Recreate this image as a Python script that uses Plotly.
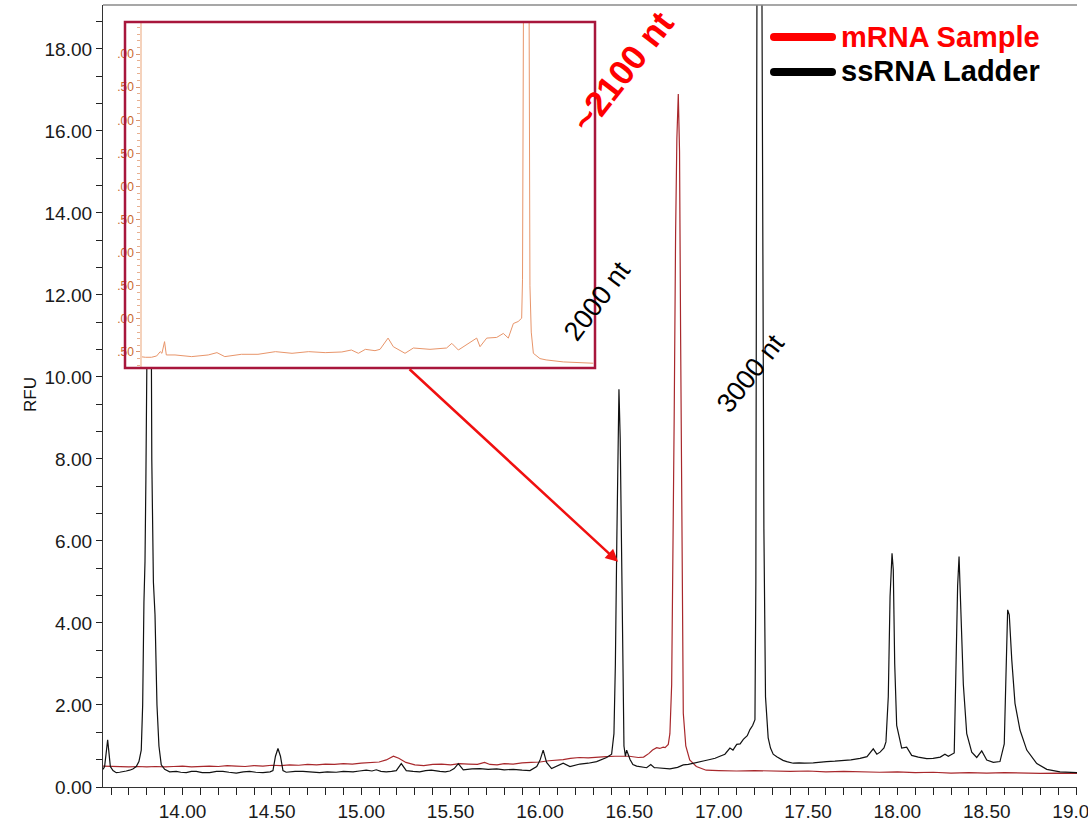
import plotly.graph_objects as go

# ---- electropherogram data (migration time in min, signal in RFU) ----
ladder_t = [13.555, 13.564, 13.572, 13.581, 13.588, 13.596, 13.611, 13.629, 13.648, 13.666,
            13.685, 13.704, 13.722, 13.741, 13.756, 13.769, 13.777, 13.784, 13.790, 13.795,
            13.799, 13.804, 13.809, 13.815, 13.821, 13.824, 13.828, 13.837, 13.846, 13.857,
            13.868, 13.881, 13.900, 13.928, 13.965, 13.990, 14.021, 14.050, 14.077, 14.110,
            14.152, 14.190, 14.226, 14.260, 14.301, 14.340, 14.375, 14.410, 14.450, 14.490,
            14.506, 14.520, 14.534, 14.548, 14.562, 14.580, 14.599, 14.630, 14.674, 14.720,
            14.767, 14.810, 14.860, 14.900, 14.954, 14.990, 15.028, 15.060, 15.084, 15.110,
            15.140, 15.170, 15.196, 15.224, 15.252, 15.290, 15.327, 15.360, 15.392, 15.440,
            15.470, 15.496, 15.520, 15.543, 15.571, 15.620, 15.664, 15.710, 15.758, 15.800,
            15.851, 15.900, 15.944, 15.982, 16.000, 16.018, 16.028, 16.037, 16.065, 16.100,
            16.130, 16.168, 16.200, 16.224, 16.270, 16.317, 16.373, 16.401, 16.414, 16.422,
            16.430, 16.436, 16.442, 16.449, 16.456, 16.464, 16.470, 16.478, 16.485, 16.504,
            16.520, 16.541, 16.570, 16.597, 16.620, 16.640, 16.653, 16.690, 16.727, 16.770,
            16.802, 16.830, 16.858, 16.895, 16.920, 16.951, 16.980, 17.007, 17.035, 17.063,
            17.080, 17.101, 17.120, 17.138, 17.160, 17.175, 17.190, 17.203, 17.208, 17.212,
            17.216, 17.227, 17.238, 17.242, 17.247, 17.253, 17.262, 17.277, 17.290, 17.305,
            17.325, 17.360, 17.381, 17.417, 17.450, 17.480, 17.529, 17.560, 17.604, 17.650,
            17.697, 17.740, 17.791, 17.830, 17.865, 17.885, 17.903, 17.925, 17.936, 17.949,
            17.959, 17.970, 17.977, 17.985, 17.996, 18.024, 18.052, 18.080, 18.117, 18.164,
            18.200, 18.240, 18.266, 18.285, 18.318, 18.328, 18.337, 18.345, 18.354, 18.369,
            18.388, 18.416, 18.444, 18.472, 18.500, 18.537, 18.574, 18.598, 18.608, 18.617,
            18.626, 18.640, 18.658, 18.686, 18.724, 18.780, 18.836, 18.910, 19.005]
ladder_rfu = [0.43, 0.50, 0.80, 1.15, 0.85, 0.50, 0.40, 0.35, 0.36, 0.37,
              0.39, 0.41, 0.44, 0.50, 0.62, 0.90, 2.0, 4.5, 5.5, 7.5,
              10.0, 13.0, 14.8, 15.9, 15.0, 12.5, 8.0, 5.0, 4.2, 2.0,
              1.0, 0.54, 0.43, 0.37, 0.38, 0.36, 0.35, 0.38, 0.38, 0.35,
              0.35, 0.38, 0.38, 0.36, 0.34, 0.37, 0.38, 0.36, 0.35, 0.37,
              0.40, 0.75, 0.94, 0.75, 0.40, 0.36, 0.37, 0.38, 0.38, 0.36,
              0.35, 0.37, 0.36, 0.38, 0.37, 0.39, 0.41, 0.39, 0.42, 0.38,
              0.37, 0.38, 0.40, 0.57, 0.40, 0.38, 0.37, 0.40, 0.41, 0.38,
              0.37, 0.39, 0.45, 0.57, 0.42, 0.44, 0.45, 0.43, 0.44, 0.42,
              0.43, 0.41, 0.40, 0.50, 0.65, 0.90, 0.75, 0.60, 0.45, 0.52,
              0.58, 0.50, 0.53, 0.56, 0.58, 0.62, 0.72, 0.80, 1.3, 3.0,
              6.0, 8.8, 9.7, 8.5, 5.5, 2.5, 1.0, 0.75, 0.90, 0.67,
              0.55, 0.51, 0.49, 0.47, 0.55, 0.47, 0.47, 0.46, 0.44, 0.48,
              0.54, 0.55, 0.58, 0.63, 0.64, 0.67, 0.70, 0.75, 0.80, 0.95,
              0.90, 1.04, 1.05, 1.16, 1.25, 1.40, 1.50, 1.64, 5.0, 15.0,
              35.0, 45.0, 35.0, 19.5, 10.0, 6.3, 2.2, 1.2, 0.95, 0.80,
              0.74, 0.65, 0.62, 0.58, 0.59, 0.58, 0.59, 0.61, 0.62, 0.63,
              0.64, 0.66, 0.70, 0.74, 0.93, 0.80, 0.85, 0.95, 1.10, 2.2,
              4.64, 5.70, 5.3, 3.0, 1.5, 0.95, 0.97, 0.77, 0.73, 0.69,
              0.70, 0.73, 0.80, 0.75, 0.83, 3.1, 4.9, 5.62, 4.6, 2.5,
              1.3, 0.85, 0.72, 0.88, 0.66, 0.60, 0.62, 1.05, 2.8, 4.32,
              4.2, 3.1, 2.04, 1.39, 0.90, 0.57, 0.43, 0.37, 0.35]

sample_t = [13.555, 13.60, 13.65, 13.70, 13.75, 13.80, 13.85, 13.90, 13.95, 14.00,
            14.05, 14.10, 14.15, 14.20, 14.25, 14.30, 14.35, 14.40, 14.45, 14.50,
            14.55, 14.60, 14.65, 14.70, 14.75, 14.80, 14.85, 14.90, 14.95, 15.00,
            15.05, 15.10, 15.14, 15.18, 15.21, 15.25, 15.30, 15.35, 15.40, 15.45,
            15.50, 15.55, 15.60, 15.65, 15.69, 15.72, 15.76, 15.80, 15.85, 15.90,
            15.95, 16.00, 16.05, 16.10, 16.13, 16.17, 16.22, 16.27, 16.32, 16.37,
            16.42, 16.47, 16.50, 16.55, 16.58, 16.61, 16.63, 16.653, 16.67, 16.69,
            16.70, 16.718, 16.727, 16.737, 16.744, 16.751, 16.759, 16.766, 16.774, 16.781,
            16.787, 16.791, 16.795, 16.802, 16.816, 16.838, 16.875, 16.93, 17.00, 17.10,
            17.20, 17.30, 17.40, 17.50, 17.60, 17.70, 17.80, 17.90, 18.00, 18.10,
            18.20, 18.30, 18.40, 18.50, 18.60, 18.70, 18.80, 18.90, 19.005]
sample_rfu = [0.51, 0.50, 0.49, 0.49, 0.50, 0.49, 0.50, 0.49, 0.50, 0.51,
              0.49, 0.50, 0.51, 0.50, 0.52, 0.51, 0.50, 0.52, 0.51, 0.53,
              0.52, 0.54, 0.53, 0.55, 0.54, 0.56, 0.55, 0.57, 0.56, 0.58,
              0.59, 0.61, 0.66, 0.75, 0.70, 0.60, 0.54, 0.52, 0.55, 0.56,
              0.54, 0.57, 0.56, 0.55, 0.60, 0.55, 0.54, 0.57, 0.56, 0.59,
              0.60, 0.61, 0.64, 0.65, 0.67, 0.70, 0.72, 0.71, 0.73, 0.74,
              0.75, 0.76, 0.75, 0.72, 0.73, 0.82, 0.90, 0.96, 0.94, 0.97,
              0.96, 1.04, 1.3, 2.5, 5.0, 9.0, 13.5, 15.8, 16.9, 15.5,
              11.0, 8.0, 4.0, 1.8, 1.0, 0.66, 0.50, 0.41, 0.40, 0.39,
              0.40, 0.39, 0.38, 0.39, 0.37, 0.38, 0.37, 0.36, 0.37, 0.35,
              0.36, 0.34, 0.35, 0.34, 0.35, 0.34, 0.33, 0.34, 0.33]

# zoomed view of the mRNA sample trace
inset_t = [12.35, 12.41, 12.48, 12.54, 12.58, 12.60, 12.63, 12.65, 12.75, 12.94,
           13.13, 13.23, 13.32, 13.51, 13.70, 13.90, 14.09, 14.28, 14.47, 14.66,
           14.77, 14.85, 14.93, 15.04, 15.098, 15.19, 15.25, 15.384, 15.48, 15.67,
           15.86, 15.92, 15.995, 16.09, 16.205, 16.243, 16.32, 16.434, 16.51, 16.567,
           16.625, 16.68, 16.72, 16.73, 16.736, 16.745, 16.77, 16.795, 16.804, 16.815,
           16.83, 16.854, 16.93, 17.0, 17.197, 17.37, 17.54]
inset_rfu = [0.43, 0.42, 0.42, 0.44, 0.505, 0.48, 0.656, 0.455, 0.455, 0.43,
             0.455, 0.49, 0.43, 0.465, 0.465, 0.505, 0.48, 0.505, 0.49, 0.50,
             0.53, 0.48, 0.54, 0.52, 0.54, 0.71, 0.58, 0.48, 0.56, 0.54,
             0.56, 0.63, 0.53, 0.61, 0.71, 0.58, 0.71, 0.72, 0.78, 0.71,
             0.93, 0.96, 1.01, 1.6, 4.0, 10.0, 16.9, 10.0, 4.0, 1.5,
             0.8, 0.48, 0.40, 0.38, 0.35, 0.34, 0.33]

x_ticks = [14.0, 14.5, 15.0, 15.5, 16.0, 16.5, 17.0, 17.5, 18.0, 18.5, 19.0]
y_ticks = [0, 2, 4, 6, 8, 10, 12, 14, 16, 18]
inset_ticks = [0.5, 1.0, 1.5, 2.0, 2.5, 3.0, 3.5, 4.0, 4.5, 5.0]
inset_ticktext = [".50", ".00", ".50", ".00", ".50", ".00", ".50", ".00", ".50", ".00"]

# ---- page geometry ----
W, H = 1088, 821
ML, MR, MT, MB = 103, 11, 5, 34
PW, PH = W - ML - MR, H - MT - MB


def px(x):
    return (x - ML) / PW


def py(y):
    return (H - MB - y) / PH


FONT = "Arial, Liberation Sans, sans-serif"
SAMPLE_COLOR = "#a8282c"
LADDER_COLOR = "#111111"
BOX_COLOR = "#a8163c"
ORANGE = "#e8956a"

X_RANGE = [13.555, 19.005]
Y_RANGE = [0, 19.07]
IN_X_RANGE = [12.177, 17.56]
IN_Y_RANGE = [0.258, 5.485]

fig = go.Figure()

fig.add_trace(go.Scatter(x=sample_t, y=sample_rfu, mode="lines",
                         line=dict(color=SAMPLE_COLOR, width=1.2),
                         showlegend=False, hoverinfo="skip"))
fig.add_trace(go.Scatter(x=ladder_t, y=ladder_rfu, mode="lines",
                         line=dict(color=LADDER_COLOR, width=1.2),
                         showlegend=False, hoverinfo="skip"))

# inset: translucent backing, then the zoomed sample trace
fig.add_trace(go.Scatter(x=[IN_X_RANGE[0], IN_X_RANGE[1], IN_X_RANGE[1], IN_X_RANGE[0], IN_X_RANGE[0]],
                         y=[IN_Y_RANGE[0], IN_Y_RANGE[0], IN_Y_RANGE[1], IN_Y_RANGE[1], IN_Y_RANGE[0]],
                         mode="lines", fill="toself", fillcolor="rgba(255,255,255,0.5)",
                         line=dict(width=0), xaxis="x2", yaxis="y2",
                         showlegend=False, hoverinfo="skip"))
fig.add_trace(go.Scatter(x=inset_t, y=inset_rfu, mode="lines",
                         line=dict(color=ORANGE, width=1),
                         xaxis="x2", yaxis="y2", showlegend=False, hoverinfo="skip"))

shapes = [
    # top frame line
    dict(type="line", xref="paper", yref="paper", x0=0, x1=1, y0=1, y1=1,
         line=dict(color="#8a8a8a", width=1.5)),
    # inset frame
    dict(type="rect", xref="paper", yref="paper", layer="above",
         x0=px(125), x1=px(595), y0=py(368), y1=py(22),
         line=dict(color=BOX_COLOR, width=2.5)),
    # legend swatches
    dict(type="line", xref="paper", yref="paper", x0=px(774), x1=px(832), y0=py(37), y1=py(37),
         line=dict(color="#ff0000", width=8)),
    dict(type="circle", xref="paper", yref="paper", x0=px(770), x1=px(778), y0=py(41), y1=py(33),
         fillcolor="#ff0000", line=dict(width=0)),
    dict(type="circle", xref="paper", yref="paper", x0=px(828), x1=px(836), y0=py(41), y1=py(33),
         fillcolor="#ff0000", line=dict(width=0)),
    dict(type="line", xref="paper", yref="paper", x0=px(774), x1=px(832), y0=py(72), y1=py(72),
         line=dict(color="#000000", width=8)),
    dict(type="circle", xref="paper", yref="paper", x0=px(770), x1=px(778), y0=py(76), y1=py(68),
         fillcolor="#000000", line=dict(width=0)),
    dict(type="circle", xref="paper", yref="paper", x0=px(828), x1=px(836), y0=py(76), y1=py(68),
         fillcolor="#000000", line=dict(width=0)),
]

annotations = [
    dict(text="RFU", xref="paper", yref="paper", x=px(30), y=py(395), showarrow=False,
         xanchor="center", yanchor="middle",
         textangle=-90, font=dict(family=FONT, size=17, color="#111")),
    dict(text="mRNA Sample", xref="paper", yref="paper", x=px(839), y=py(37),
         xanchor="left", yanchor="middle", showarrow=False,
         font=dict(family=FONT, size=29, color="#ff0000", weight="bold")),
    dict(text="ssRNA Ladder", xref="paper", yref="paper", x=px(839), y=py(71),
         xanchor="left", yanchor="middle", showarrow=False,
         font=dict(family=FONT, size=29, color="#000000", weight="bold")),
    dict(text="2000 nt", x=16.32, y=11.85, xanchor="center", yanchor="middle",
         showarrow=False, textangle=-53, font=dict(family=FONT, size=27, color="#000")),
    dict(text="3000 nt", x=17.18, y=10.1, xanchor="center", yanchor="middle",
         showarrow=False, textangle=-52, font=dict(family=FONT, size=27, color="#000")),
    dict(text="~2100 nt", x=16.46, y=17.44, xanchor="center", yanchor="middle",
         showarrow=False, textangle=-52, font=dict(family=FONT, size=35, color="#ff0000", weight="bold")),
    # arrow from the inset to the 2000 nt ladder peak
    dict(text="", x=16.437, y=5.49, ax=-210, ay=-194, axref="pixel", ayref="pixel",
         showarrow=True, arrowhead=2, arrowsize=1, arrowwidth=2.5, arrowcolor="#f01010",
         standoff=0),
]

fig.update_layout(
    width=W, height=H,
    margin=dict(l=ML, r=MR, t=MT, b=MB, autoexpand=False),
    paper_bgcolor="white", plot_bgcolor="white",
    showlegend=False,
    shapes=shapes, annotations=annotations,
    xaxis=dict(range=X_RANGE, tickvals=x_ticks, ticktext=[f"{v:.2f}" for v in x_ticks],
               ticks="outside", ticklen=7, tickcolor="#222", tickwidth=1,
               ticklabeloverflow="allow", automargin=False,
               minor=dict(dtick=0.1, tick0=0, ticks="outside", ticklen=7, tickcolor="#222"),
               showline=True, linecolor="#333", linewidth=1.2,
               showgrid=False, zeroline=False,
               tickfont=dict(family=FONT, size=19, color="#1a1a1a")),
    yaxis=dict(range=Y_RANGE, tickvals=y_ticks, ticktext=[f"{v:.2f}" for v in y_ticks],
               ticks="outside", ticklen=6, tickcolor="#222", automargin=False,
               minor=dict(dtick=2 / 3, tick0=0, ticks="outside", ticklen=6, tickcolor="#222"),
               showline=True, linecolor="#333", linewidth=1.2,
               showgrid=False, zeroline=False,
               tickfont=dict(family=FONT, size=19, color="#1a1a1a")),
    xaxis2=dict(domain=[px(125), px(595)], range=IN_X_RANGE, anchor="y2",
                visible=False),
    yaxis2=dict(domain=[py(368), py(22)], range=IN_Y_RANGE, anchor="free", position=px(141),
                tickvals=inset_ticks, ticktext=inset_ticktext, automargin=False,
                ticks="outside", ticklen=4, tickcolor="#dd9670",
                minor=dict(dtick=0.1, tick0=0, ticks="outside", ticklen=3, tickcolor="#e8b090"),
                showline=True, linecolor="#f5d2bc", linewidth=1.5,
                showgrid=False, zeroline=False,
                tickfont=dict(family=FONT, size=12, color="#c8652a")),
)

fig.write_html("out.html")
